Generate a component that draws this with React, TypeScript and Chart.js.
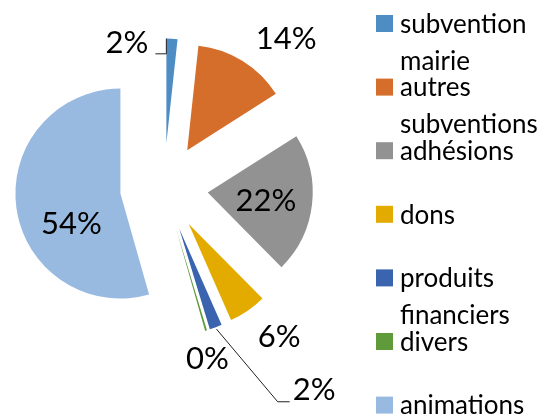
import React, { useEffect, useRef } from 'react';
import { Chart, registerables } from 'chart.js';

Chart.register(...registerables);

// ---- data ----
const CATEGORIES = [
  'subvention mairie',
  'autres subventions',
  'adhésions',
  'dons',
  'produits financiers',
  'divers',
  'animations',
];
const SHARES = [1.7, 14.3, 21.6, 5.8, 1.9, 0.3, 54.4];
const COLORS = ['#4E8CC4', '#D56E2A', '#929292', '#E3AB00', '#3A64AE', '#5F9A3B', '#98B9E0'];

// ---- layout / style (not data) ----
const FONT = 'Lato, "Open Sans", sans-serif';
const EXPLODE = 44;
const RADIUS = 105;
// label placement relative to each exploded slice: radius ratio and angle shift (deg)
const LABEL_LAYOUT: { r: number; da: number; leader?: string }[] = [
  { r: 1.03, da: -24.4, leader: 'elbowUp' },
  { r: 1.42, da: 9.7 },
  { r: 0.56, da: 1.8 },
  { r: 1.38, da: -4.4 },
  { r: 2.0, da: -19.6, leader: 'diag' },
  { r: 1.27, da: 2.9 },
  { r: 0.55, da: -24 },
];

const explodePlugin = {
  id: 'explodeDraw',
  beforeDatasetDraw(chart: any, args: any) {
    const ctx = chart.ctx;
    args.meta.data.forEach((arc: any) => {
      const mid = (arc.startAngle + arc.endAngle) / 2;
      ctx.save();
      ctx.translate(Math.cos(mid) * EXPLODE, Math.sin(mid) * EXPLODE);
      arc.draw(ctx);
      ctx.restore();
    });
    return false;
  },
};

const labelPlugin = {
  id: 'pctLabels',
  afterDatasetsDraw(chart: any) {
    const ctx = chart.ctx;
    const meta = chart.getDatasetMeta(0);
    const values: number[] = chart.data.datasets[0].data;
    const total = values.reduce((a, b) => a + b, 0);
    ctx.save();
    ctx.font = `31px ${FONT}`;
    ctx.fillStyle = '#000';
    ctx.textAlign = 'center';
    ctx.textBaseline = 'middle';
    meta.data.forEach((arc: any, i: number) => {
      const lay = LABEL_LAYOUT[i];
      const mid = (arc.startAngle + arc.endAngle) / 2;
      const ex = arc.x + Math.cos(mid) * EXPLODE;
      const ey = arc.y + Math.sin(mid) * EXPLODE;
      const R = arc.outerRadius;
      const a = mid + (lay.da * Math.PI) / 180;
      const lx = ex + Math.cos(a) * R * lay.r;
      const ly = ey + Math.sin(a) * R * lay.r;
      const text = Math.round((values[i] / total) * 100) + '%';
      ctx.fillText(text, lx, ly);
      const w = ctx.measureText(text).width;
      if (lay.leader) {
        ctx.beginPath();
        ctx.strokeStyle = '#222';
        ctx.lineWidth = 1;
        if (lay.leader === 'elbowUp') {
          const sx = ex + Math.cos(arc.startAngle) * R;
          const sy = ey + Math.sin(arc.startAngle) * R;
          const y0 = ly + 11;
          ctx.moveTo(lx + w / 2 + 7, y0);
          ctx.lineTo(sx, y0);
          ctx.lineTo(sx, sy);
        } else {
          const sx = ex + Math.cos(mid) * (R + 2);
          const sy = ey + Math.sin(mid) * (R + 2);
          const left = lx - w / 2;
          const y0 = ly + 12;
          ctx.moveTo(sx, sy);
          ctx.lineTo(left - 15, y0);
          ctx.lineTo(left - 3, y0);
        }
        ctx.stroke();
      }
    });
    ctx.restore();
  },
};

const legendPlugin = {
  id: 'sideLegend',
  afterDraw(chart: any) {
    const ctx = chart.ctx;
    const labels: string[] = chart.data.labels;
    const colors: string[] = chart.data.datasets[0].backgroundColor;
    ctx.save();
    ctx.font = `26px ${FONT}`;
    ctx.textBaseline = 'middle';
    ctx.textAlign = 'left';
    const maxW = 150;
    labels.forEach((lab, i) => {
      const yc = 23.5 + i * 63.6;
      ctx.fillStyle = colors[i];
      ctx.fillRect(376, yc - 8.5, 17, 17);
      // greedy wrap
      const words = lab.split(' ');
      const lines: string[] = [];
      let cur = '';
      words.forEach((w) => {
        const t = cur ? cur + ' ' + w : w;
        if (cur && ctx.measureText(t).width > maxW) {
          lines.push(cur);
          cur = w;
        } else cur = t;
      });
      if (cur) lines.push(cur);
      ctx.fillStyle = '#000';
      lines.forEach((ln, k) => ctx.fillText(ln, 400, yc + 1 + k * 37));
    });
    ctx.restore();
  },
};

export default function App() {
  const ref = useRef<HTMLCanvasElement | null>(null);
  useEffect(() => {
    if (!ref.current) return;
    const chart = new Chart(ref.current, {
      type: 'pie',
      data: {
        labels: CATEGORIES,
        datasets: [
          {
            data: SHARES,
            backgroundColor: COLORS,
            borderWidth: 0,
            radius: RADIUS,
          } as any,
        ],
      },
      options: {
        responsive: false,
        animation: false,
        layout: { padding: { left: 0, right: 227, top: 0, bottom: 42 } },
        plugins: {
          legend: { display: false },
          tooltip: { enabled: false },
        },
      },
      plugins: [explodePlugin, labelPlugin, legendPlugin],
    });
    return () => chart.destroy();
  }, []);
  return (
    <div style={{ position: 'fixed', left: 0, top: 0, width: 555, height: 417, background: '#fff' }}>
      <canvas ref={ref} width={555} height={417} style={{ display: 'block' }} />
    </div>
  );
}
